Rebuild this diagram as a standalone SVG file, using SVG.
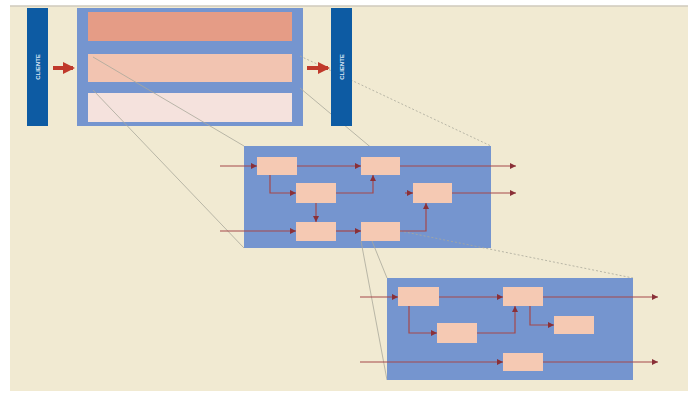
<svg xmlns="http://www.w3.org/2000/svg" width="688" height="393" viewBox="0 0 688 393">
<defs>
<style>
.bar{fill:#0d5ba3}
.lbl{font-family:"Liberation Sans",Arial,sans-serif;font-size:6px;font-weight:bold;fill:#dce8f5;text-anchor:middle}
.frame{fill:#7595cf}
.blk{fill:#f5c9b3}
.ln{fill:none;stroke:#a5484a;stroke-width:1.2}
.zoom{fill:none;stroke:#a9a89a;stroke-width:0.8}
.dash{fill:none;stroke:#a9a89a;stroke-width:0.8;stroke-dasharray:2 2}
</style>
<marker id="ah" viewBox="0 0 6 6" refX="6" refY="3" markerWidth="6" markerHeight="6" orient="auto" markerUnits="userSpaceOnUse">
<path d="M0,0 L6,3 L0,6 z" fill="#8a3038"/>
</marker>
<marker id="big" viewBox="0 0 6 6" refX="5" refY="3" markerWidth="3" markerHeight="3" orient="auto">
<path d="M0,0 L6,3 L0,6 z" fill="#c0392b"/>
</marker>
</defs>
<rect x="0" y="0" width="688" height="393" fill="#ffffff"/>
<rect x="10" y="6" width="678" height="385" fill="#f1ead2"/>
<line x1="10" y1="6" x2="688" y2="6" stroke="#cfcabc" stroke-width="1.5"/>

<g id="cliente-left">
<rect class="bar" x="27" y="8" width="21" height="118"/>
<text class="lbl" transform="translate(39.5,67) rotate(-90)">CLIENTE</text>
</g>
<g id="stack">
<rect class="frame" x="77" y="8" width="226" height="118"/>
<rect x="88" y="12" width="204" height="29" fill="#e59c86"/>
<rect x="88" y="54" width="204" height="28" fill="#f2c4b1"/>
<rect x="88" y="93" width="204" height="29" fill="#f5e2dd"/>
</g>

<g id="zoom-lines-1">
<line class="zoom" x1="93" y1="57" x2="244" y2="146"/>
<line class="zoom" x1="93" y1="90" x2="244" y2="248"/>
<line class="dash" x1="300" y1="56" x2="491" y2="146"/>
<line class="zoom" x1="300" y1="88" x2="491" y2="248"/>
</g>

<g id="cliente-right">
<rect class="bar" x="331" y="8" width="21" height="118"/>
<text class="lbl" transform="translate(343.5,67) rotate(-90)">CLIENTE</text>
</g>

<g id="detail-1">
<rect class="frame" x="244" y="146" width="247" height="102"/>
<rect class="blk" x="257" y="157" width="40" height="18"/>
<rect class="blk" x="361" y="157" width="39" height="18"/>
<rect class="blk" x="296" y="183" width="40" height="20"/>
<rect class="blk" x="413" y="183" width="39" height="20"/>
<rect class="blk" x="296" y="222" width="40" height="19"/>
<rect class="blk" x="361" y="222" width="39" height="19"/>
</g>

<g id="zoom-lines-2">
<line class="zoom" x1="361" y1="241" x2="387" y2="380"/>
<line class="zoom" x1="372" y1="241" x2="387" y2="278"/>
<line class="dash" x1="400" y1="231" x2="633" y2="278"/>
</g>

<g id="detail-2">
<rect class="frame" x="387" y="278" width="246" height="102"/>
<rect class="blk" x="398" y="287" width="41" height="19"/>
<rect class="blk" x="503" y="287" width="40" height="19"/>
<rect class="blk" x="437" y="323" width="40" height="20"/>
<rect class="blk" x="554" y="316" width="40" height="18"/>
<rect class="blk" x="503" y="353" width="40" height="18"/>
</g>

<g id="connectors">
<line x1="53" y1="68" x2="73" y2="68" stroke="#c0392b" stroke-width="4" marker-end="url(#big)"/>
<line x1="307" y1="68" x2="328" y2="68" stroke="#c0392b" stroke-width="4" marker-end="url(#big)"/>

<path class="ln" d="M220,166 H257" marker-end="url(#ah)"/>
<path class="ln" d="M297,166 H361" marker-end="url(#ah)"/>
<path class="ln" d="M400,166 H516" marker-end="url(#ah)"/>
<path class="ln" d="M270,175 V193 H296" marker-end="url(#ah)"/>
<path class="ln" d="M336,193 H373 V175" marker-end="url(#ah)"/>
<path class="ln" d="M405,193 H413" marker-end="url(#ah)"/>
<path class="ln" d="M452,193 H516" marker-end="url(#ah)"/>
<path class="ln" d="M316,203 V222" marker-end="url(#ah)"/>
<path class="ln" d="M220,231 H296" marker-end="url(#ah)"/>
<path class="ln" d="M336,231 H361" marker-end="url(#ah)"/>
<path class="ln" d="M400,231 H426 V203" marker-end="url(#ah)"/>

<path class="ln" d="M360,297 H398" marker-end="url(#ah)"/>
<path class="ln" d="M439,297 H503" marker-end="url(#ah)"/>
<path class="ln" d="M543,297 H658" marker-end="url(#ah)"/>
<path class="ln" d="M409,306 V333 H437" marker-end="url(#ah)"/>
<path class="ln" d="M477,333 H515 V306" marker-end="url(#ah)"/>
<path class="ln" d="M530,306 V325 H554" marker-end="url(#ah)"/>
<path class="ln" d="M360,362 H503" marker-end="url(#ah)"/>
<path class="ln" d="M543,362 H658" marker-end="url(#ah)"/>
</g>
</svg>
